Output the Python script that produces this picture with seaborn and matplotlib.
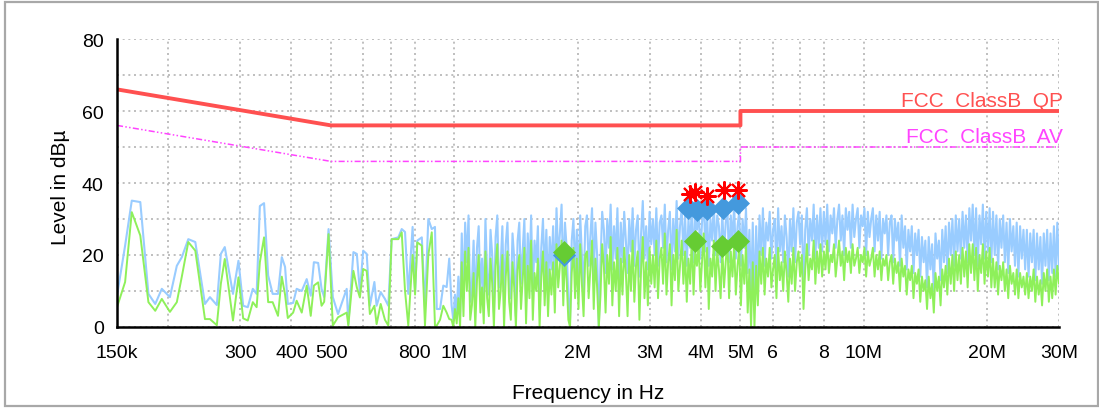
import numpy as np
import matplotlib
matplotlib.use("Agg")
import matplotlib.pyplot as plt
import seaborn as sns
from matplotlib.patches import Rectangle
from matplotlib.ticker import FixedLocator, FixedFormatter, NullLocator

sns.set_theme(style="white")
plt.rcParams["font.family"] = ["Liberation Sans", "DejaVu Sans"]

# ---------------- data ----------------
# sparse part of the scan (150 kHz - 1 MHz), frequency in kHz
low_freq_khz = [150, 157, 163, 171, 179, 186, 193, 202, 210, 216,
                224, 233, 246, 253, 263, 269, 275, 288, 297, 305,
                313, 322, 329, 335, 343, 351, 360, 371, 379, 386,
                392, 404, 412, 424, 436, 446, 454, 465, 474, 481,
                493, 505, 520, 546, 551, 567, 578, 588, 599, 611,
                622, 638, 646, 661, 677, 690, 703, 730, 744, 758,
                772, 791, 802, 812, 833, 848, 864, 881, 897, 906,
                923, 940, 958, 972]
low_peak = [8.7, 22.6, 35.1, 34.7, 9.2, 6.4, 10.6, 8.3, 17.0, 19.4,
            24.4, 23.6, 6.4, 8.3, 6.1, 20.3, 22.2, 9.2, 18.4, 5.9,
            5.5, 10.6, 9.2, 33.6, 34.4, 14.3, 9.2, 9.2, 19.4, 16.7,
            6.4, 6.7, 10.6, 10.0, 13.3, 8.7, 18.0, 17.8, 10.6, 8.3,
            27.2, 8.3, 3.6, 10.6, 0.8, 20.8, 20.3, 9.7, 21.2, 20.3,
            5.9, 12.5, 5.9, 9.7, 7.8, 5.9, 24.4, 24.9, 27.2, 26.4,
            9.2, 27.8, 9.7, 24.0, 24.9, 5.5, 30.0, 27.2, 27.8, 5.0,
            5.0, 11.5, 11.1, 19.0]
low_avg = [5.5, 12.5, 31.9, 25.4, 6.9, 4.5, 7.8, 4.2, 6.9, 14.0,
           23.6, 21.2, 2.2, 2.2, 0.5, 12.0, 18.9, 1.8, 13.8, 2.4,
           1.8, 6.9, 5.5, 18.0, 24.9, 6.9, 6.9, 3.1, 14.0, 9.0,
           2.5, 4.0, 7.3, 4.0, 11.5, 3.1, 11.5, 12.4, 5.9, 7.0,
           25.8, 0.4, 2.7, 4.0, 0.4, 15.6, 11.0, 8.2, 16.1, 15.6,
           3.6, 5.9, 0.8, 6.4, 2.0, 0.4, 24.4, 24.4, 26.3, 10.0,
           0.4, 20.0, 9.0, 23.5, 22.6, 0.4, 20.0, 26.3, 0.4, 0.4,
           2.0, 5.9, 4.0, 2.2]

# dense part of the scan (about 1 MHz - 30 MHz), log-spaced sweep points
dense_start_hz = 0.985e6
dense_stop_hz = 30e6
dense_peak = [
    6, 2, 9, 4, 14, 3, 26, 8, 29, 18, 31, 7, 12, 24, 5, 22, 28, 10, 19, 6,
    30, 15, 9, 27, 20, 4, 25, 31, 11, 17, 28, 6, 23, 29, 13, 8, 26, 19, 3, 24,
    29, 12, 21, 30, 7, 26, 15, 31, 9, 24, 18, 28, 5, 22, 30, 14, 27, 10, 25, 16,
    28, 11, 33, 19, 26, 34, 13, 29, 22, 8, 2, 24, 30, 15, 27, 12, 31, 20, 10, 28,
    31, 17, 25, 33, 14, 29, 20, 0, 18, 32, 27, 15, 30, 22, 34, 16, 28, 19, 33, 13,
    29, 18, 32, 24, 15, 30, 21, 33, 17, 27, 31, 14, 26, 35, 19, 28, 16, 32, 23, 30,
    20, 33, 17, 29, 31, 22, 34, 18, 27, 32, 16, 30, 21, 35, 19, 28, 33, 20, 31, 17,
    30, 22, 34, 18, 31, 27, 33, 19, 29, 35, 21, 32, 17, 30, 24, 34, 20, 31, 28, 18,
    32, 20, 29, 33, 18, 31, 24, 34, 19, 28, 32, 17, 30, 22, 33, 15, 27, 9, 29, 6,
    28, 12, 31, 20, 33, 17, 29, 24, 32, 19, 27, 30, 16, 33, 21, 28, 18, 31, 25, 14,
    30, 21, 33, 18, 29, 32, 23, 31, 11, 27, 33, 20, 30, 24, 34, 19, 31, 22, 33, 21,
    32, 23, 34, 21, 31, 26, 33, 22, 30, 34, 24, 31, 20, 33, 27, 32, 22, 34, 25, 30,
    33, 22, 31, 28, 33, 20, 32, 25, 30, 33, 21, 31, 24, 32, 19, 30, 26, 31, 20, 29,
    31, 18, 30, 24, 29, 17, 31, 22, 28, 16, 27, 21, 28, 15, 26, 20, 27, 14, 25, 18,
    24, 11, 25, 16, 23, 10, 26, 19, 24, 13, 27, 18, 28, 15, 29, 20, 30, 17, 31, 21,
    30, 19, 32, 22, 31, 18, 33, 24, 34, 20, 33, 17, 31, 23, 34, 19, 32, 21, 33, 18,
    32, 20, 31, 16, 30, 22, 31, 18, 29, 15, 30, 21, 28, 17, 29, 14, 28, 19, 27, 16,
    27, 14, 26, 18, 27, 13, 26, 16, 25, 12, 26, 17, 27, 13, 26, 15, 28, 14, 29, 16]
dense_avg = [
    2, 0, 5, 1, 8, 0, 18, 3, 21, 10, 22, 2, 6, 15, 0, 13, 20, 4, 11, 1,
    21, 8, 3, 19, 12, 0, 17, 23, 5, 10, 20, 0, 14, 21, 7, 2, 18, 11, 0, 16,
    20, 5, 13, 22, 1, 17, 8, 24, 2, 15, 10, 19, 0, 14, 21, 6, 18, 3, 16, 9,
    18, 4, 23, 11, 17, 24, 6, 20, 13, 2, 0, 15, 22, 8, 19, 5, 23, 12, 3, 20,
    21, 8, 16, 24, 5, 19, 11, 0, 9, 23, 17, 4, 20, 12, 25, 6, 18, 10, 22, 3,
    19, 9, 22, 15, 3, 20, 10, 24, 7, 17, 21, 2, 16, 25, 8, 18, 6, 22, 12, 20,
    11, 24, 8, 19, 22, 12, 26, 9, 18, 23, 6, 20, 13, 27, 10, 17, 24, 12, 21, 7,
    19, 12, 25, 9, 21, 17, 23, 10, 18, 26, 11, 22, 5, 19, 14, 24, 10, 21, 16, 8,
    22, 11, 18, 24, 8, 21, 14, 23, 9, 17, 22, 6, 20, 12, 23, 4, 16, 0, 18, 0,
    17, 6, 21, 12, 22, 9, 19, 14, 22, 11, 16, 20, 8, 22, 13, 18, 10, 21, 15, 7,
    19, 12, 22, 10, 18, 21, 14, 20, 5, 16, 23, 13, 19, 16, 24, 12, 21, 15, 23, 14,
    21, 16, 24, 15, 20, 18, 23, 14, 19, 24, 17, 21, 13, 22, 18, 21, 15, 23, 17, 19,
    22, 15, 20, 18, 22, 14, 21, 17, 19, 22, 14, 20, 16, 21, 13, 19, 17, 20, 13, 18,
    20, 12, 19, 15, 18, 10, 19, 14, 17, 9, 16, 13, 17, 8, 15, 12, 16, 7, 14, 10,
    13, 5, 14, 8, 12, 4, 15, 10, 14, 6, 16, 11, 17, 9, 19, 12, 20, 10, 21, 13,
    20, 12, 22, 14, 21, 11, 23, 15, 23, 13, 22, 10, 20, 15, 23, 12, 21, 14, 22, 11,
    19, 11, 18, 9, 17, 13, 18, 10, 16, 8, 17, 12, 15, 9, 16, 8, 15, 11, 14, 9,
    15, 8, 14, 10, 16, 7, 14, 9, 13, 6, 15, 10, 16, 7, 14, 8, 16, 9, 17, 12]

# limit lines
qp_freq = [150e3, 500e3, 5e6, 5e6, 30e6]
qp_level = [66, 56, 56, 60, 60]
av_freq = [150e3, 500e3, 5e6, 5e6, 30e6]
av_level = [56, 46, 46, 50, 50]
qp_label = "FCC  ClassB  QP"
av_label = "FCC  ClassB  AV"

# final measurement markers
qp_mark_freq = [3.76e6, 3.87e6, 4.14e6, 4.56e6, 4.94e6]
qp_mark_level = [36.9, 37.4, 36.5, 38.0, 38.0]
pk_mark_freq = [1.857e6, 3.73e6, 3.91e6, 4.14e6, 4.54e6, 4.94e6]
pk_mark_level = [20.0, 33.0, 32.5, 32.8, 33.0, 34.4]
av_mark_freq = [1.857e6, 3.87e6, 4.50e6, 4.94e6]
av_mark_level = [20.9, 24.0, 22.6, 24.0]

# axes ticks
x_ticks = [150e3, 200e3, 300e3, 400e3, 500e3, 600e3, 700e3, 800e3, 1e6,
           2e6, 3e6, 4e6, 5e6, 6e6, 7e6, 8e6, 10e6, 20e6, 30e6]
x_tick_labels = ["150k", "", "300", "400", "500", "", "", "800", "1M",
                 "2M", "3M", "4M", "5M", "6", "", "8", "10M", "20M", "30M"]
y_ticks = [0, 10, 20, 30, 40, 50, 60, 70, 80]
y_tick_labels = ["0", "", "20", "", "40", "", "60", "", "80"]
x_label = "Frequency in Hz"
y_label = "Level in dBµ"

# ---------------- build series ----------------
dense_freq = np.geomspace(dense_start_hz, dense_stop_hz, len(dense_peak))
scan_freq = np.concatenate([np.array(low_freq_khz) * 1e3, dense_freq])
scan_peak = np.concatenate([low_peak, dense_peak])
scan_avg = np.concatenate([low_avg, dense_avg])

# ---------------- figure ----------------
W, H = 1099, 410
fig = plt.figure(figsize=(W / 100, H / 100), dpi=100)
fig.patch.set_facecolor("white")
ax = fig.add_axes([117 / W, 1 - 328 / H, (1059 - 117) / W, (328 - 40) / H])
ax.set_facecolor("white")
ax.set_xscale("log")
ax.set_xlim(150e3, 30e6)
ax.set_ylim(0, 80)

blue = "#99ccff"
green = "#8ef05a"
sns.lineplot(x=scan_freq, y=scan_peak, ax=ax, color=blue, linewidth=1.5,
             sort=False, estimator=None, zorder=3)
sns.lineplot(x=scan_freq, y=scan_avg, ax=ax, color=green, linewidth=1.4,
             sort=False, estimator=None, zorder=4)

sns.lineplot(x=qp_freq, y=qp_level, ax=ax, color="#ff5050", linewidth=2.8,
             sort=False, estimator=None, zorder=5)
sns.lineplot(x=av_freq, y=av_level, ax=ax, color="#ff44ff", linewidth=1.1,
             sort=False, estimator=None, zorder=5, linestyle=(0, (4, 1.5, 1, 1.5, 1, 1.5)))

ax.plot(pk_mark_freq, pk_mark_level, ls="none", marker="D", ms=11,
        color="#4499dd", mec="#4499dd", mew=0.5, zorder=6)
ax.plot(av_mark_freq, av_mark_level, ls="none", marker="D", ms=11,
        color="#66cc33", mec="#66cc33", mew=0.5, zorder=7)
ax.plot(qp_mark_freq, qp_mark_level, ls="none", marker=(8, 2, 0), ms=13,
        color="#ff0000", mec="#ff0000", mew=1.5, zorder=8)

ytr = ax.get_yaxis_transform()
ax.text(1.0042, 61.3, qp_label, transform=ytr, ha="right", va="baseline",
        color="#ff5050", fontsize=15, clip_on=False)
ax.text(1.0042, 51.3, av_label, transform=ytr, ha="right", va="baseline",
        color="#ff44ff", fontsize=15, clip_on=False)

ax.xaxis.set_major_locator(FixedLocator(x_ticks))
ax.xaxis.set_major_formatter(FixedFormatter(x_tick_labels))
ax.xaxis.set_minor_locator(NullLocator())
ax.yaxis.set_major_locator(FixedLocator(y_ticks))
ax.yaxis.set_major_formatter(FixedFormatter(y_tick_labels))
ax.yaxis.set_minor_locator(NullLocator())

ax.tick_params(axis="both", which="major", direction="inout", length=13,
               width=1.5, color="black", labelsize=14, labelcolor="black")
ax.tick_params(axis="x", pad=6)
ax.tick_params(axis="y", pad=3)

ax.grid(True, which="major", linestyle=(0, (1.2, 2.2)), color="#b4b4b4", linewidth=1.2)
ax.set_axisbelow(True)
for s in ["top", "right"]:
    ax.spines[s].set_visible(False)
for s in ["left", "bottom"]:
    ax.spines[s].set_color("black")
    ax.spines[s].set_linewidth(1.8)
    ax.spines[s].set_zorder(10)

ax.set_xlabel(x_label, fontsize=15, color="black")
ax.set_ylabel(y_label, fontsize=15, color="black")
ax.xaxis.set_label_coords(0.5, -0.195)
ax.xaxis.label.set_va("top")
ax.yaxis.set_label_coords(-0.05, 0.49)

fig.patches.append(Rectangle((5 / W, 3 / H), (1098 - 5) / W, (407 - 3) / H,
                             transform=fig.transFigure, fill=False,
                             edgecolor="#a8a8a8", linewidth=1.6))

fig.savefig("out.png", dpi=100, facecolor="white")
